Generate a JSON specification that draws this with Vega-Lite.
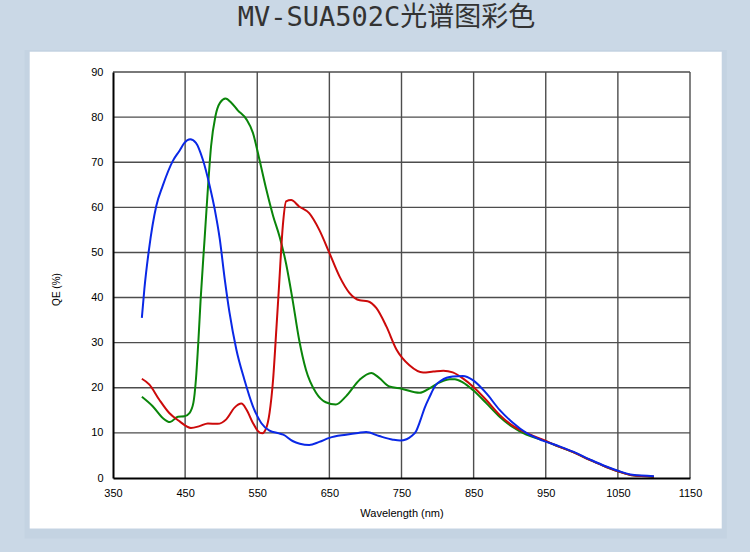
{
  "$schema": "https://vega.github.io/schema/vega-lite/v6.json",
  "autosize": {"type": "none"},
  "width": 577,
  "height": 406,
  "padding": {"left": 113, "top": 72, "right": 60, "bottom": 74},
  "background": "#cad8e6",
  "title": {
    "text": "MV-SUA502C光谱图彩色",
    "font": "DejaVu Sans Mono, Noto Sans CJK SC",
    "fontSize": 27,
    "fontWeight": "normal",
    "color": "#333333",
    "anchor": "middle",
    "frame": "group",
    "baseline": "middle",
    "offset": 0,
    "dx": -15,
    "dy": -5
  },
  "datasets": {
    "qe": [
      {"ch": "G", "nm": 390, "qe": 18.0}, {"ch": "G", "nm": 405, "qe": 15.9}, {"ch": "G", "nm": 419, "qe": 13.3},
      {"ch": "G", "nm": 429, "qe": 12.4}, {"ch": "G", "nm": 440, "qe": 13.6}, {"ch": "G", "nm": 449, "qe": 13.7},
      {"ch": "G", "nm": 456, "qe": 14.4}, {"ch": "G", "nm": 461.5, "qe": 16.7}, {"ch": "G", "nm": 465, "qe": 21.9},
      {"ch": "G", "nm": 468.5, "qe": 30.7}, {"ch": "G", "nm": 471.5, "qe": 39.6}, {"ch": "G", "nm": 477, "qe": 53.0},
      {"ch": "G", "nm": 481.5, "qe": 64.0}, {"ch": "G", "nm": 486, "qe": 73.6}, {"ch": "G", "nm": 492, "qe": 80.2},
      {"ch": "G", "nm": 498.5, "qe": 83.2}, {"ch": "G", "nm": 506, "qe": 84.1}, {"ch": "G", "nm": 514, "qe": 83.2},
      {"ch": "G", "nm": 523, "qe": 81.5}, {"ch": "G", "nm": 535, "qe": 79.5}, {"ch": "G", "nm": 544, "qe": 76.5},
      {"ch": "G", "nm": 553, "qe": 70.6}, {"ch": "G", "nm": 562.5, "qe": 64.0}, {"ch": "G", "nm": 572, "qe": 58.1},
      {"ch": "G", "nm": 581, "qe": 53.5}, {"ch": "G", "nm": 590, "qe": 47.5}, {"ch": "G", "nm": 599, "qe": 39.5},
      {"ch": "G", "nm": 608, "qe": 30.7}, {"ch": "G", "nm": 617.5, "qe": 24.0}, {"ch": "G", "nm": 631.5, "qe": 18.9},
      {"ch": "G", "nm": 645, "qe": 16.8}, {"ch": "G", "nm": 659, "qe": 16.3}, {"ch": "G", "nm": 673, "qe": 18.1},
      {"ch": "G", "nm": 692, "qe": 21.8}, {"ch": "G", "nm": 708, "qe": 23.3}, {"ch": "G", "nm": 719, "qe": 22.2},
      {"ch": "G", "nm": 733, "qe": 20.3}, {"ch": "G", "nm": 750, "qe": 19.8}, {"ch": "G", "nm": 775, "qe": 18.9},
      {"ch": "G", "nm": 790, "qe": 20.0}, {"ch": "G", "nm": 803, "qe": 21.2}, {"ch": "G", "nm": 817, "qe": 21.9},
      {"ch": "G", "nm": 824, "qe": 21.9}, {"ch": "G", "nm": 835, "qe": 21.2}, {"ch": "G", "nm": 849, "qe": 19.5},
      {"ch": "G", "nm": 867.5, "qe": 16.6}, {"ch": "G", "nm": 886, "qe": 13.6}, {"ch": "G", "nm": 904, "qe": 11.3},
      {"ch": "G", "nm": 923, "qe": 9.6}, {"ch": "G", "nm": 946, "qe": 8.4}, {"ch": "G", "nm": 969, "qe": 6.9},
      {"ch": "G", "nm": 987, "qe": 5.8}, {"ch": "G", "nm": 1010, "qe": 4.1}, {"ch": "G", "nm": 1033, "qe": 2.5},
      {"ch": "G", "nm": 1052, "qe": 1.4}, {"ch": "G", "nm": 1070, "qe": 0.6}, {"ch": "G", "nm": 1100, "qe": 0.3},

      {"ch": "R", "nm": 390, "qe": 22.0}, {"ch": "R", "nm": 400.5, "qe": 20.7}, {"ch": "R", "nm": 414, "qe": 17.4},
      {"ch": "R", "nm": 428, "qe": 14.4}, {"ch": "R", "nm": 442, "qe": 12.6}, {"ch": "R", "nm": 458, "qe": 11.1},
      {"ch": "R", "nm": 470, "qe": 11.5}, {"ch": "R", "nm": 481.5, "qe": 12.1}, {"ch": "R", "nm": 495, "qe": 12.0},
      {"ch": "R", "nm": 507, "qe": 13.0}, {"ch": "R", "nm": 518.5, "qe": 15.6}, {"ch": "R", "nm": 528, "qe": 16.5},
      {"ch": "R", "nm": 535, "qe": 15.2}, {"ch": "R", "nm": 544, "qe": 12.2}, {"ch": "R", "nm": 551, "qe": 10.4},
      {"ch": "R", "nm": 557, "qe": 9.9}, {"ch": "R", "nm": 562.5, "qe": 11.1}, {"ch": "R", "nm": 567, "qe": 14.4},
      {"ch": "R", "nm": 572, "qe": 21.9}, {"ch": "R", "nm": 576.5, "qe": 33.0}, {"ch": "R", "nm": 580, "qe": 42.0},
      {"ch": "R", "nm": 585.5, "qe": 56.0}, {"ch": "R", "nm": 590, "qe": 61.3}, {"ch": "R", "nm": 597, "qe": 61.6},
      {"ch": "R", "nm": 608, "qe": 60.2}, {"ch": "R", "nm": 622, "qe": 58.7}, {"ch": "R", "nm": 636, "qe": 55.0},
      {"ch": "R", "nm": 650, "qe": 49.9}, {"ch": "R", "nm": 664, "qe": 44.7}, {"ch": "R", "nm": 678, "qe": 41.0},
      {"ch": "R", "nm": 692, "qe": 39.4}, {"ch": "R", "nm": 703, "qe": 39.2}, {"ch": "R", "nm": 715, "qe": 37.7},
      {"ch": "R", "nm": 729, "qe": 33.6}, {"ch": "R", "nm": 743, "qe": 28.5}, {"ch": "R", "nm": 761, "qe": 25.0},
      {"ch": "R", "nm": 780, "qe": 23.4}, {"ch": "R", "nm": 794, "qe": 23.6}, {"ch": "R", "nm": 808, "qe": 23.8},
      {"ch": "R", "nm": 821, "qe": 23.4}, {"ch": "R", "nm": 835, "qe": 22.1}, {"ch": "R", "nm": 849, "qe": 20.3},
      {"ch": "R", "nm": 867.5, "qe": 17.3}, {"ch": "R", "nm": 886, "qe": 14.0}, {"ch": "R", "nm": 904, "qe": 11.6},
      {"ch": "R", "nm": 923, "qe": 10.0}, {"ch": "R", "nm": 946, "qe": 8.5}, {"ch": "R", "nm": 969, "qe": 6.9},
      {"ch": "R", "nm": 987, "qe": 5.8}, {"ch": "R", "nm": 1010, "qe": 4.1}, {"ch": "R", "nm": 1033, "qe": 2.5},
      {"ch": "R", "nm": 1052, "qe": 1.4}, {"ch": "R", "nm": 1070, "qe": 0.6}, {"ch": "R", "nm": 1100, "qe": 0.3},

      {"ch": "B", "nm": 390, "qe": 35.5}, {"ch": "B", "nm": 393.5, "qe": 41.9}, {"ch": "B", "nm": 400, "qe": 50.8},
      {"ch": "B", "nm": 410, "qe": 60.3}, {"ch": "B", "nm": 419, "qe": 64.8}, {"ch": "B", "nm": 433, "qe": 70.3},
      {"ch": "B", "nm": 442, "qe": 72.5}, {"ch": "B", "nm": 449, "qe": 74.3}, {"ch": "B", "nm": 457, "qe": 75.1},
      {"ch": "B", "nm": 465, "qe": 74.3}, {"ch": "B", "nm": 474.5, "qe": 70.6}, {"ch": "B", "nm": 484, "qe": 64.8},
      {"ch": "B", "nm": 491, "qe": 59.6}, {"ch": "B", "nm": 498, "qe": 53.0}, {"ch": "B", "nm": 505, "qe": 44.0},
      {"ch": "B", "nm": 511.5, "qe": 36.7}, {"ch": "B", "nm": 521, "qe": 28.5}, {"ch": "B", "nm": 532, "qe": 21.9},
      {"ch": "B", "nm": 544, "qe": 15.9}, {"ch": "B", "nm": 555.5, "qe": 12.2}, {"ch": "B", "nm": 567, "qe": 10.5},
      {"ch": "B", "nm": 580, "qe": 9.9}, {"ch": "B", "nm": 586, "qe": 9.6}, {"ch": "B", "nm": 599, "qe": 8.2},
      {"ch": "B", "nm": 609, "qe": 7.6}, {"ch": "B", "nm": 622, "qe": 7.3}, {"ch": "B", "nm": 636, "qe": 8.0},
      {"ch": "B", "nm": 650, "qe": 8.9}, {"ch": "B", "nm": 673, "qe": 9.6}, {"ch": "B", "nm": 690, "qe": 10.0},
      {"ch": "B", "nm": 701, "qe": 10.2}, {"ch": "B", "nm": 719, "qe": 9.3}, {"ch": "B", "nm": 738, "qe": 8.5},
      {"ch": "B", "nm": 748, "qe": 8.3}, {"ch": "B", "nm": 757, "qe": 8.6}, {"ch": "B", "nm": 764, "qe": 9.3},
      {"ch": "B", "nm": 770, "qe": 10.3}, {"ch": "B", "nm": 776, "qe": 12.7}, {"ch": "B", "nm": 782, "qe": 15.5},
      {"ch": "B", "nm": 789, "qe": 18.0}, {"ch": "B", "nm": 797, "qe": 20.5}, {"ch": "B", "nm": 805, "qe": 21.6},
      {"ch": "B", "nm": 821, "qe": 22.5}, {"ch": "B", "nm": 835, "qe": 22.6}, {"ch": "B", "nm": 849, "qe": 21.7},
      {"ch": "B", "nm": 867.5, "qe": 18.8}, {"ch": "B", "nm": 886, "qe": 15.1}, {"ch": "B", "nm": 904, "qe": 12.3},
      {"ch": "B", "nm": 923, "qe": 10.0}, {"ch": "B", "nm": 946, "qe": 8.3}, {"ch": "B", "nm": 969, "qe": 7.0},
      {"ch": "B", "nm": 987, "qe": 5.9}, {"ch": "B", "nm": 1010, "qe": 4.2}, {"ch": "B", "nm": 1033, "qe": 2.6},
      {"ch": "B", "nm": 1052, "qe": 1.5}, {"ch": "B", "nm": 1070, "qe": 0.7}, {"ch": "B", "nm": 1100, "qe": 0.4}
    ]
  },
  "layer": [
    {
      "data": {"values": [{}]},
      "mark": {"type": "rect", "fill": "#7f98ae", "opacity": 0.08, "clip": false},
      "encoding": {
        "x": {"datum": 227.5, "type": "quantitative"},
        "x2": {"datum": 1201},
        "y": {"datum": 94.9, "type": "quantitative"},
        "y2": {"datum": -13.4}
      }
    },
    {
      "data": {"values": [{}]},
      "mark": {"type": "rect", "fill": "#ffffff", "clip": false},
      "encoding": {
        "x": {"datum": 234.5, "type": "quantitative"},
        "x2": {"datum": 1194},
        "y": {"datum": 94.5, "type": "quantitative"},
        "y2": {"datum": -11.2}
      }
    },
    {
      "data": {"values": [{"g": 450}, {"g": 550}, {"g": 650}, {"g": 750}, {"g": 850}, {"g": 950}, {"g": 1050}, {"g": 1150}]},
      "mark": {"type": "rule", "color": "#4d4d4d", "strokeWidth": 1.4},
      "encoding": {"x": {"field": "g", "type": "quantitative"}}
    },
    {
      "data": {"values": [{"g": 10}, {"g": 20}, {"g": 30}, {"g": 40}, {"g": 50}, {"g": 60}, {"g": 70}, {"g": 80}, {"g": 90}]},
      "mark": {"type": "rule", "color": "#4d4d4d", "strokeWidth": 1.4},
      "encoding": {"y": {"field": "g", "type": "quantitative"}}
    },
    {
      "data": {"name": "qe"},
      "mark": {"type": "line", "interpolate": "monotone", "strokeWidth": 2},
      "encoding": {
        "x": {
          "field": "nm",
          "type": "quantitative",
          "scale": {"domain": [350, 1150], "nice": false, "zero": false},
          "axis": {
            "values": [350, 450, 550, 650, 750, 850, 950, 1050, 1150],
            "format": "d",
            "title": "Wavelength (nm)",
            "zindex": 2,
            "labelDx": 3,
            "labelPadding": 9,
            "titlePadding": 9
          }
        },
        "y": {
          "field": "qe",
          "type": "quantitative",
          "scale": {"domain": [0, 90], "nice": false},
          "axis": {
            "values": [0, 10, 20, 30, 40, 50, 60, 70, 80, 90],
            "format": "d",
            "title": "QE (%)",
            "zindex": 2,
            "titleFontSize": 10,
            "labelPadding": 10,
            "titleX": -52,
            "titleY": 217
          }
        },
        "color": {
          "field": "ch",
          "type": "nominal",
          "scale": {"domain": ["G", "R", "B"], "range": ["#0a850a", "#cc0a0a", "#0a28e6"]},
          "legend": null
        },
        "order": {"field": "nm", "type": "quantitative"}
      }
    }
  ],
  "resolve": {"axis": {"x": "shared", "y": "shared"}},
  "config": {
    "view": {"stroke": null, "fill": null},
    "axis": {
      "grid": false,
      "domainColor": "#000000",
      "domainWidth": 2,
      "ticks": false,
      "labelFont": "Liberation Sans",
      "labelFontSize": 11,
      "labelColor": "#000000",
      "labelFlush": false,
      "labelOverlap": false,
      "titleFont": "Liberation Sans",
      "titleFontSize": 11,
      "titleFontWeight": "normal",
      "titleColor": "#000000"
    }
  }
}
